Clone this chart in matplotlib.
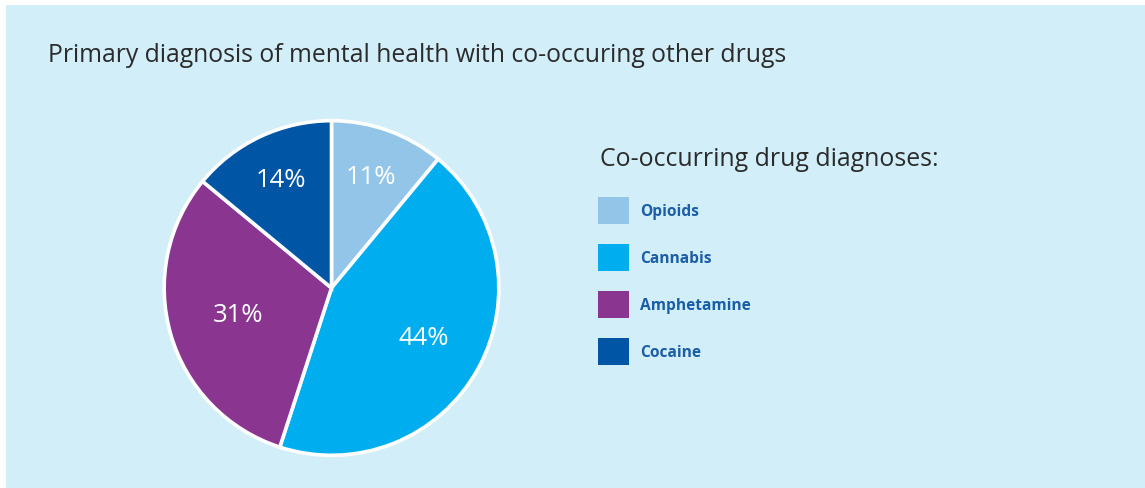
import matplotlib
matplotlib.use('Agg')
import matplotlib.pyplot as plt
from matplotlib.patches import Rectangle
import numpy as np

plt.rcParams['font.family'] = ['Open Sans', 'DejaVu Sans']

# data
drugs = ['Opioids', 'Cannabis', 'Amphetamine', 'Cocaine']
shares = [11, 44, 31, 14]
colors = ['#93c5e8', '#00aeef', '#8a3690', '#0055a5']
label_r = [0.70, 0.63, 0.58, 0.71]  # how far out each % label sits

W, H = 1145, 488
fig = plt.figure(figsize=(W / 100, H / 100), dpi=100, facecolor='white')

# light blue panel
fig.patches.append(Rectangle((6 / W, 0), 1 - 6 / W, (H - 5) / H, transform=fig.transFigure,
                             facecolor='#d2eef9', edgecolor='none', zorder=-5))

fig.text(48 / W, (H - 62) / H, 'Primary diagnosis of mental health with co-occuring other drugs',
         fontsize=17.85, color='#2b2b2b', va='baseline', ha='left')

# pie
R = 169
cx, cy = 331.5, H - 288
ax = fig.add_axes([(cx - R) / W, (cy - R) / H, 2 * R / W, 2 * R / H])
ax.set_zorder(5)
wedges, _ = ax.pie(shares, colors=colors, startangle=90, counterclock=False, radius=1,
                   wedgeprops=dict(edgecolor='white', linewidth=2.6))
for w, s, r in zip(wedges, shares, label_r):
    ang = np.deg2rad((w.theta1 + w.theta2) / 2)
    ax.text(r * np.cos(ang), r * np.sin(ang), str(s) + '%', color='white', fontsize=18.5,
            ha='center', va='center')
ax.set_xlim(-1.01, 1.01)
ax.set_ylim(-1.01, 1.01)
ax.set_aspect('equal')
ax.axis('off')

# legend
fig.text(600 / W, (H - 166) / H, 'Co-occurring drug diagnoses:', fontsize=17.9, color='#2b2b2b',
         va='baseline', ha='left')
for i in range(len(drugs)):
    top = 197 + 47 * i
    fig.patches.append(Rectangle((598 / W, (H - top - 27) / H), 31 / W, 27 / H,
                                 transform=fig.transFigure, facecolor=colors[i],
                                 edgecolor='none', zorder=1))
    fig.text(640 / W, (H - 216 - 47 * i) / H, drugs[i], fontsize=11.2, fontweight='bold',
             color='#1b5ea6', va='baseline', ha='left')

fig.savefig('out.png', dpi=100, facecolor='white')
